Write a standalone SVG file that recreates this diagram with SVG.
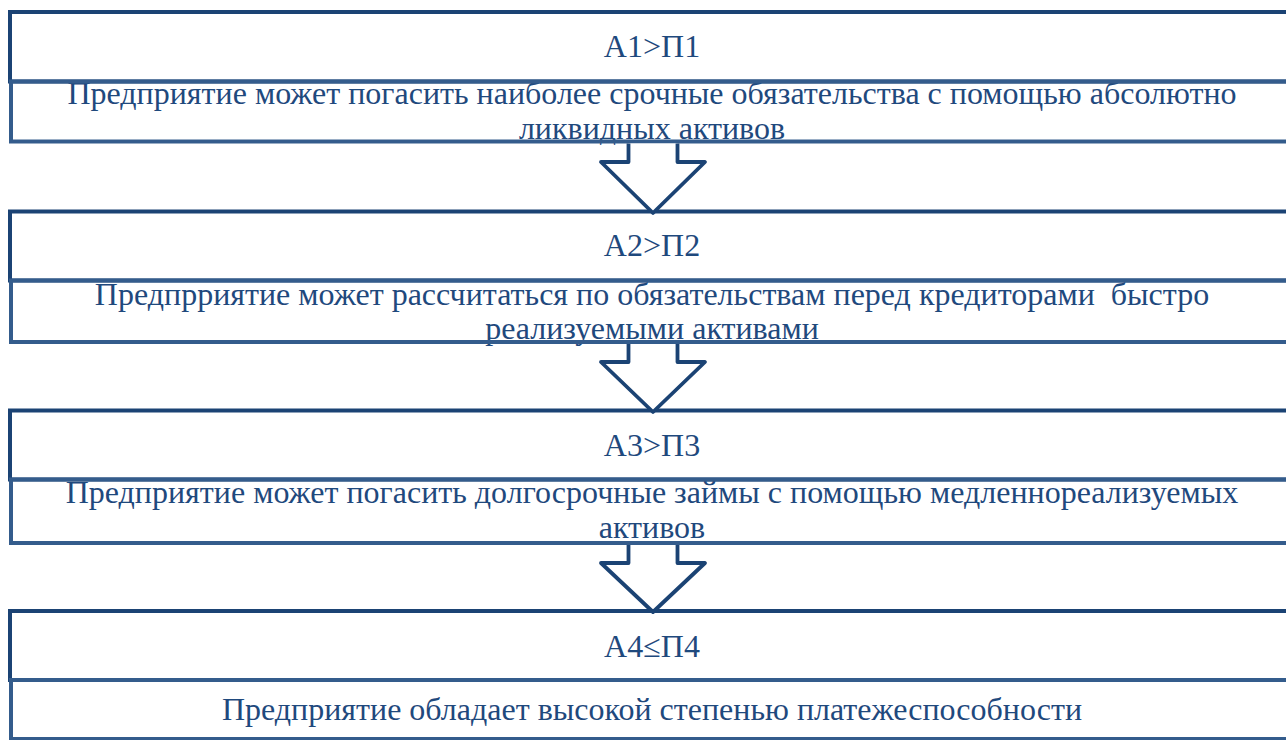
<svg xmlns="http://www.w3.org/2000/svg" width="1286" height="740" viewBox="0 0 1286 740">
<style>
.hd{fill:#fff;stroke:#1B4374;stroke-width:4}
.bd{fill:none;stroke:#345C8C;stroke-width:4}
.t{font-family:"Liberation Serif","Times New Roman",serif;font-size:32px;fill:#1F497D;text-anchor:middle;white-space:pre}
.arr{fill:#fff;stroke:#1B4374;stroke-width:3.8;stroke-linejoin:round}
</style>
<rect width="1286" height="740" fill="#fff"/>
<g id="node1">
<rect class="hd" x="10" y="12" width="1290" height="69.5"/>
<text class="t" x="652" y="57">А1&gt;П1</text>
<text class="t" x="652" y="104">Предприятие может погасить наиболее срочные обязательства с помощью абсолютно</text>
<text class="t" x="652" y="138.5">ликвидных активов</text>
<rect class="bd" x="11" y="81.5" width="1290" height="60"/>
</g>
<g id="node2">
<rect class="hd" x="10" y="211.5" width="1290" height="69"/>
<text class="t" x="652" y="256">А2&gt;П2</text>
<text class="t" x="652" y="304.5">Предпрриятие может рассчитаться по обязательствам перед кредиторами  быстро</text>
<text class="t" x="652" y="339">реализуемыми активами</text>
<rect class="bd" x="11" y="280.5" width="1290" height="61.5"/>
</g>
<g id="node3">
<rect class="hd" x="10" y="410.5" width="1290" height="69"/>
<text class="t" x="652" y="456">А3&gt;П3</text>
<text class="t" x="652" y="503">Предприятие может погасить долгосрочные займы с помощью медленнореализуемых</text>
<text class="t" x="652" y="538">активов</text>
<rect class="bd" x="11" y="479.5" width="1290" height="63.5"/>
</g>
<g id="node4">
<rect class="hd" x="10" y="611" width="1290" height="69"/>
<text class="t" x="652" y="657">А4≤П4</text>
<text class="t" x="652" y="720">Предприятие обладает высокой степенью платежеспособности</text>
<rect class="bd" x="11" y="680" width="1290" height="59"/>
</g>
<g id="connectors">
<path class="arr" d="M628.5,143.5 V162 H601 L653,213 L705,162 H677.5 V143.5"/>
<path class="arr" d="M628.5,344 V362 H601 L653,412 L705,362 H677.5 V344"/>
<path class="arr" d="M628.5,545 V563 H601 L653,612 L705,563 H677.5 V545"/>
</g>
</svg>
